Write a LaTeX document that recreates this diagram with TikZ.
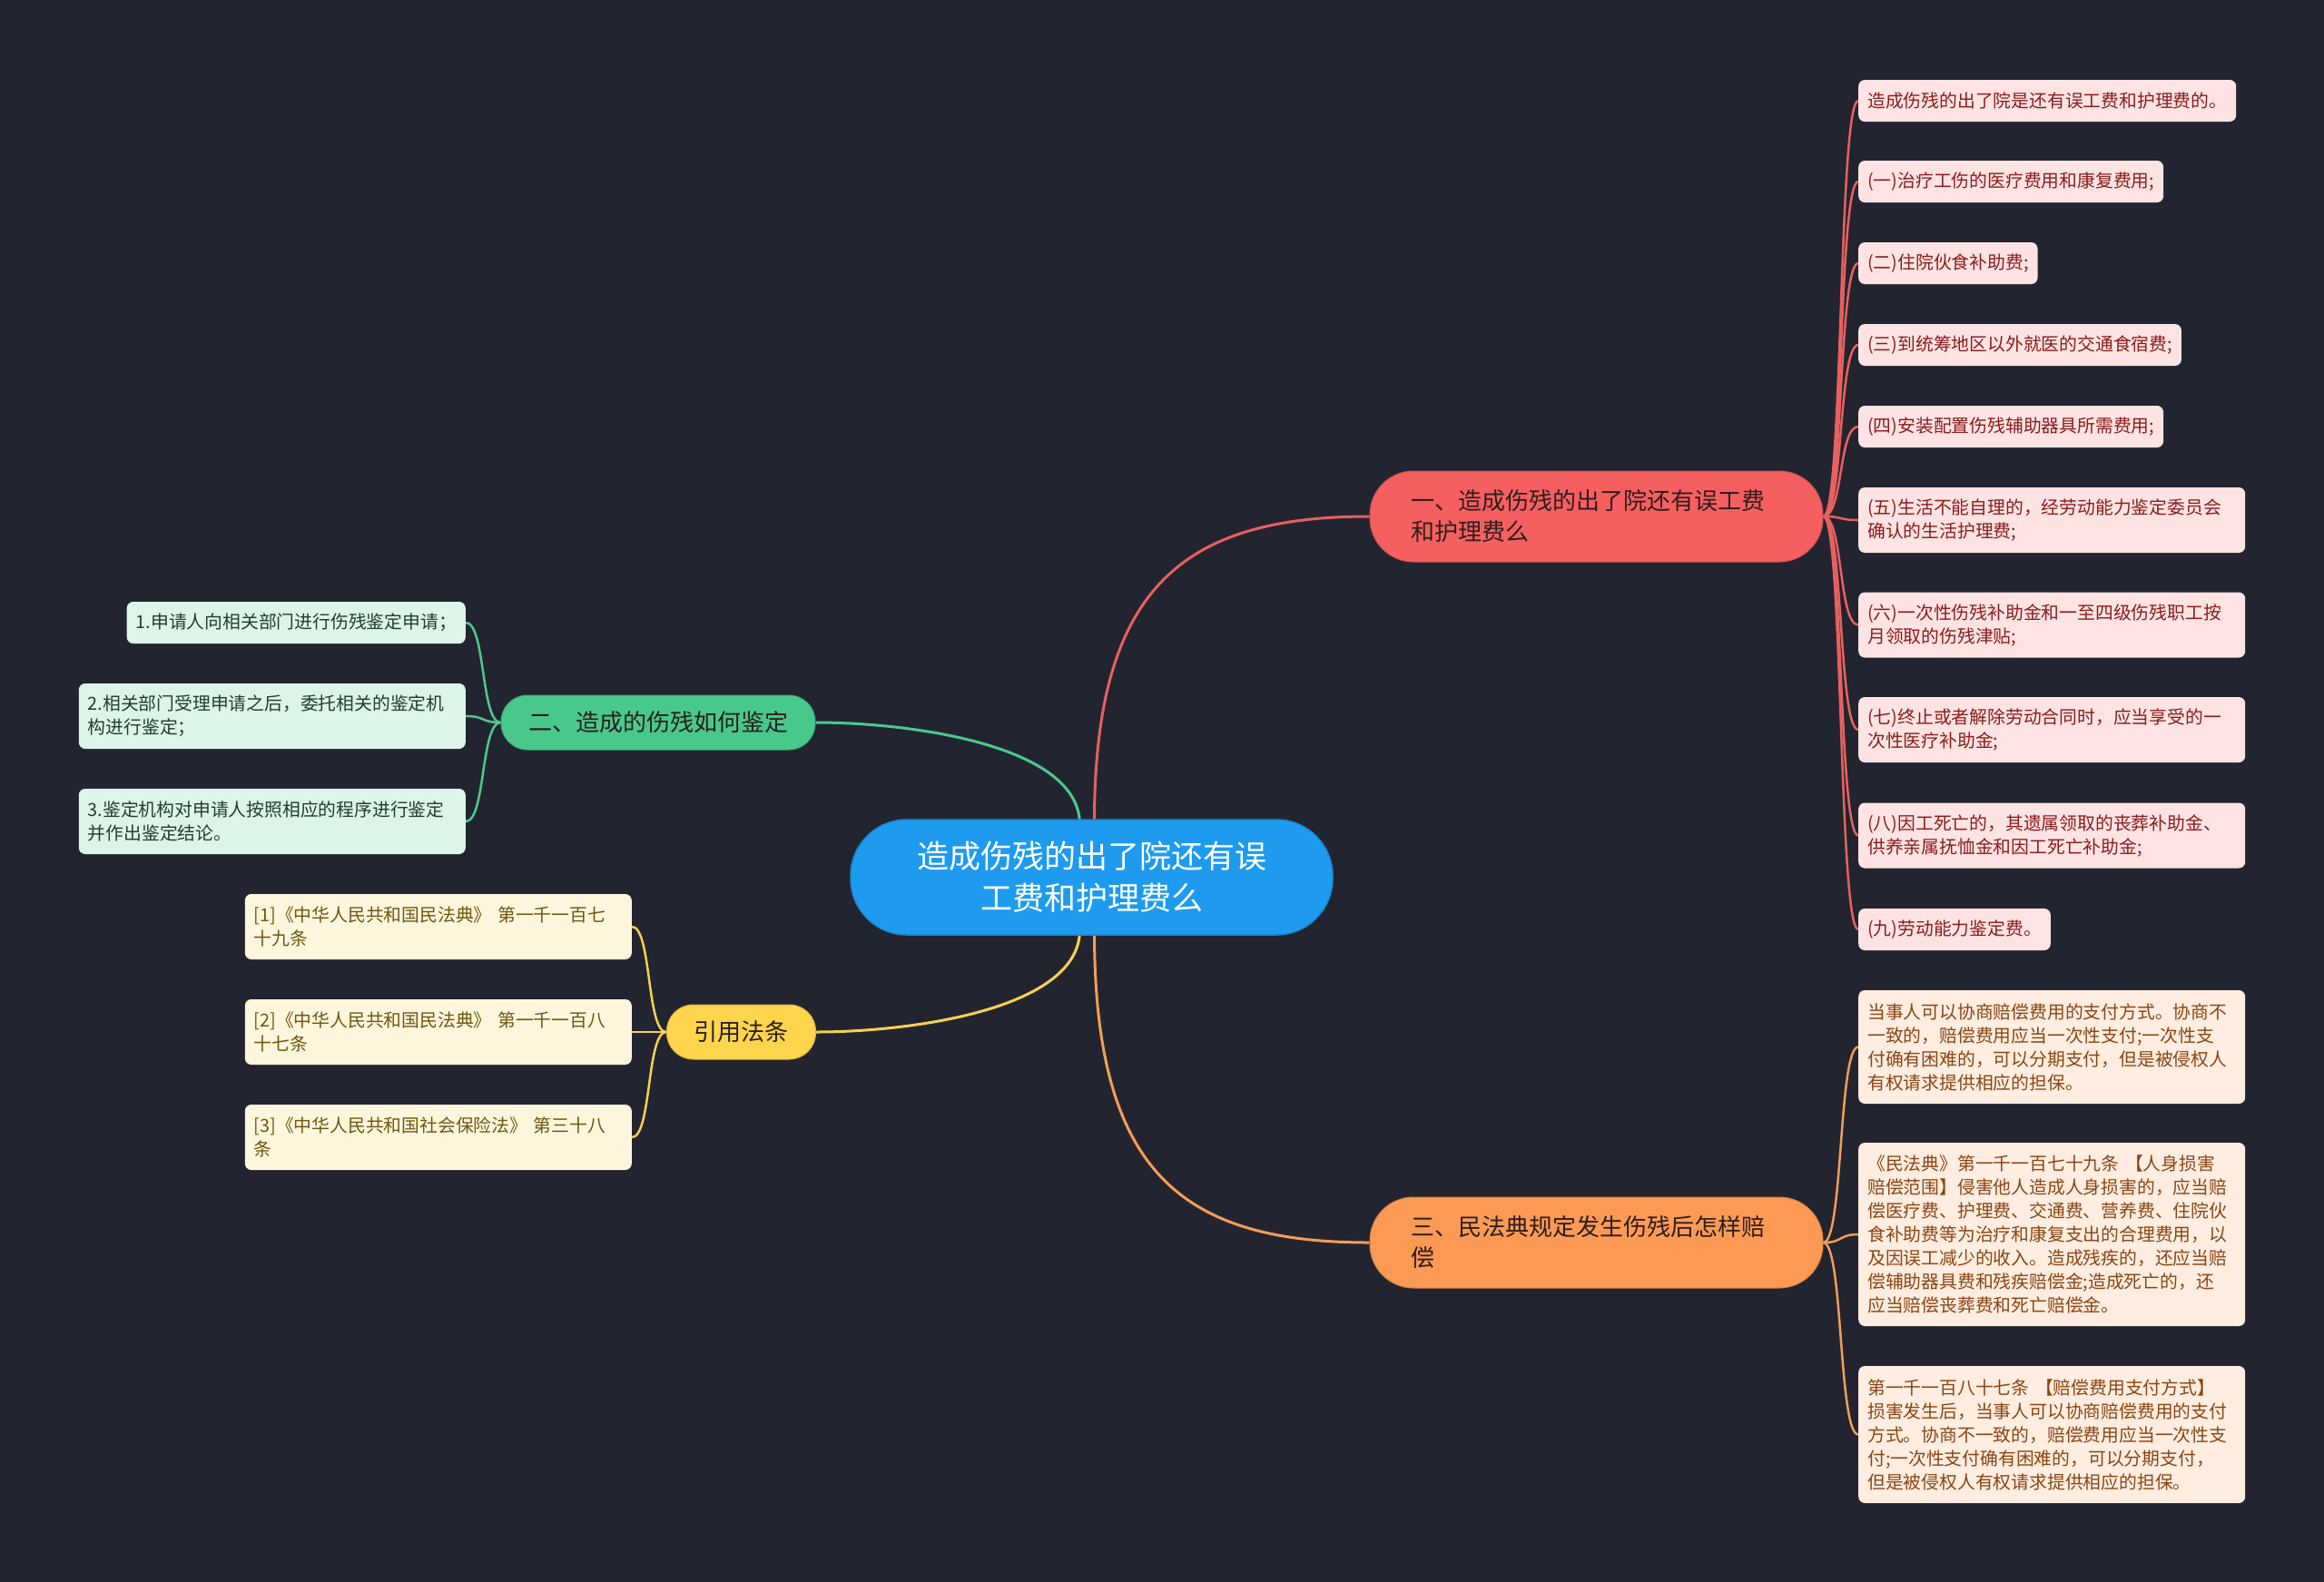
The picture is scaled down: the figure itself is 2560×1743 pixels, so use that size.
\documentclass[tikz,border=0pt]{standalone}
\usepackage{fontspec}
\setmainfont{Noto Sans CJK SC}
\usetikzlibrary{calc}
\pgfdeclarelayer{bg}
\pgfdeclarelayer{edges}
\pgfsetlayers{bg,edges,main}
\definecolor{bgc}{HTML}{22252F}
\definecolor{cfill}{HTML}{1E9BEE}
\definecolor{cdraw}{HTML}{1A86CF}
\definecolor{rfill}{HTML}{F55F5F}
\definecolor{rline}{HTML}{E8605F}
\definecolor{rleaf}{HTML}{FDE4E3}
\definecolor{rtext}{HTML}{8A1C1C}
\definecolor{gfill}{HTML}{48C98B}
\definecolor{gline}{HTML}{4CC98E}
\definecolor{gleaf}{HTML}{DDF4E8}
\definecolor{gtext}{HTML}{1F3F2E}
\definecolor{yfill}{HTML}{FDD54C}
\definecolor{yline}{HTML}{F5D052}
\definecolor{yleaf}{HTML}{FEF6DC}
\definecolor{ytext}{HTML}{6E5710}
\definecolor{ofill}{HTML}{FC9A55}
\definecolor{oline}{HTML}{F49C5A}
\definecolor{oleaf}{HTML}{FEEDE0}
\definecolor{otext}{HTML}{8A4514}
\definecolor{btext}{HTML}{2E1E1E}
\tikzset{
  centernode/.style={rectangle, rounded corners=62pt, fill=cfill, draw=cdraw, line width=1.5pt,
    text=white, align=center, text width=441pt, inner xsep=45pt, inner ysep=0pt,
    minimum height=127pt, font=\fontsize{35}{46}\selectfont},
  branchbox/.style={rectangle, inner ysep=0pt, minimum height=100pt, rounded corners=48pt,
    text=btext, font=\fontsize{26}{34}\selectfont, line width=1pt},
  widebranch/.style={branchbox, align=left, text width=409pt, inner xsep=45pt},
  smallbranch/.style={branchbox, align=center, inner xsep=30pt, minimum height=60pt, rounded corners=29pt},
  leafbox/.style={rectangle, rounded corners=7pt, inner xsep=10pt, inner ysep=0pt,
    align=left, font=\fontsize{19.8}{26}\selectfont},
  leafR/.style={leafbox, fill=rleaf, text=rtext, anchor=west},
  leafO/.style={leafbox, fill=oleaf, text=otext, anchor=west},
  leafG/.style={leafbox, fill=gleaf, text=gtext, anchor=east},
  leafY/.style={leafbox, fill=yleaf, text=ytext, anchor=east},
  multi/.style={text width=406pt},
  one/.style={minimum height=46pt},
  two/.style={minimum height=72pt},
  mainedge/.style={line width=3pt},
  leafedge/.style={line width=2.5pt},
}
\begin{document}
\begin{tikzpicture}[x=1pt,y=-1pt]
\begin{pgfonlayer}{bg}
\fill[bgc] (0,0) rectangle (2560,1743);
\end{pgfonlayer}
\useasboundingbox (0,0) rectangle (2560,1743);

% center
\node[centernode] (c) at (1202.5,966.5) {造成伤残的出了院还有误\\工费和护理费么};

% branches
\node[widebranch, fill=rfill, draw=rfill!85!black] (b1) at (1758.5,569) {一、造成伤残的出了院还有误工费\\和护理费么};
\node[widebranch, fill=ofill, draw=ofill!85!black] (b4) at (1758.5,1369) {三、民法典规定发生伤残后怎样赔\\偿};
\node[smallbranch, fill=gfill, draw=gfill!85!black, minimum width=346pt] (b2) at (725,796) {二、造成的伤残如何鉴定};
\node[smallbranch, fill=yfill, draw=yfill!85!black, minimum width=163pt] (b3) at (816.5,1137) {引用法条};

% red leaves
\node[leafR, one] (r1) at (2047,111) {造成伤残的出了院是还有误工费和护理费的。};
\node[leafR, one] (r2) at (2047,200) {(一)治疗工伤的医疗费用和康复费用;};
\node[leafR, one] (r3) at (2047,290) {(二)住院伙食补助费;};
\node[leafR, one] (r4) at (2047,380) {(三)到统筹地区以外就医的交通食宿费;};
\node[leafR, one] (r5) at (2047,470) {(四)安装配置伤残辅助器具所需费用;};
\node[leafR, two, multi] (r6) at (2047,573) {(五)生活不能自理的，经劳动能力鉴定委员会\\确认的生活护理费;};
\node[leafR, two, multi] (r7) at (2047,688.5) {(六)一次性伤残补助金和一至四级伤残职工按\\月领取的伤残津贴;};
\node[leafR, two, multi] (r8) at (2047,804) {(七)终止或者解除劳动合同时，应当享受的一\\次性医疗补助金;};
\node[leafR, two, multi] (r9) at (2047,920.5) {(八)因工死亡的，其遗属领取的丧葬补助金、\\供养亲属抚恤金和因工死亡补助金;};
\node[leafR, one] (r10) at (2047,1024) {(九)劳动能力鉴定费。};

% orange leaves
\node[leafO, multi, minimum height=125pt] (o1) at (2047,1153.5) {当事人可以协商赔偿费用的支付方式。协商不\\一致的，赔偿费用应当一次性支付;一次性支\\付确有困难的，可以分期支付，但是被侵权人\\有权请求提供相应的担保。};
\node[leafO, multi, minimum height=202pt] (o2) at (2047,1360) {《民法典》第一千一百七十九条 【人身损害\\赔偿范围】侵害他人造成人身损害的，应当赔\\偿医疗费、护理费、交通费、营养费、住院伙\\食补助费等为治疗和康复支出的合理费用，以\\及因误工减少的收入。造成残疾的，还应当赔\\偿辅助器具费和残疾赔偿金;造成死亡的，还\\应当赔偿丧葬费和死亡赔偿金。};
\node[leafO, multi, minimum height=151pt] (o3) at (2047,1580.5) {第一千一百八十七条 【赔偿费用支付方式】\\损害发生后，当事人可以协商赔偿费用的支付\\方式。协商不一致的，赔偿费用应当一次性支\\付;一次性支付确有困难的，可以分期支付，\\但是被侵权人有权请求提供相应的担保。};

% green leaves
\node[leafG, one] (g1) at (513,686) {1.申请人向相关部门进行伤残鉴定申请；};
\node[leafG, two, multi] (g2) at (513,789) {2.相关部门受理申请之后，委托相关的鉴定机\\构进行鉴定；};
\node[leafG, two, multi] (g3) at (513,905) {3.鉴定机构对申请人按照相应的程序进行鉴定\\并作出鉴定结论。};

% yellow leaves
\node[leafY, two, multi] (y1) at (696,1021) {[1]《中华人民共和国民法典》 第一千一百七\\十九条};
\node[leafY, two, multi] (y2) at (696,1137) {[2]《中华人民共和国民法典》 第一千一百八\\十七条};
\node[leafY, two, multi] (y3) at (696,1253) {[3]《中华人民共和国社会保险法》 第三十八\\条};

\begin{pgfonlayer}{edges}
% main edges
\draw[mainedge, rline] ($(c.north)+(3,6)$) .. controls (1205,650) and (1300,569) .. (b1.west);
\draw[mainedge, oline] ($(c.south)+(3,-6)$) .. controls (1205,1290) and (1300,1369) .. (b4.west);
\draw[mainedge, gline] ($(c.north)+(-13,6)$) .. controls (1189,820) and (1000,796) .. (b2.east);
\draw[mainedge, yline] ($(c.south)+(-13,-6)$) .. controls (1189,1113) and (1000,1137) .. (b3.east);
% leaf edges
\foreach \n in {r1,r2,r3,r4,r5,r6,r7,r8,r9,r10}
  \draw[leafedge, rline] (b1.east) .. controls ($(b1.east)+(22,0)$) and ($(\n.west)+(-22,0)$) .. (\n.west);
\foreach \n in {o1,o2,o3}
  \draw[leafedge, oline] (b4.east) .. controls ($(b4.east)+(22,0)$) and ($(\n.west)+(-22,0)$) .. (\n.west);
\foreach \n in {g1,g2,g3}
  \draw[leafedge, gline] (b2.west) .. controls ($(b2.west)+(-22,0)$) and ($(\n.east)+(22,0)$) .. (\n.east);
\foreach \n in {y1,y2,y3}
  \draw[leafedge, yline] (b3.west) .. controls ($(b3.west)+(-22,0)$) and ($(\n.east)+(22,0)$) .. (\n.east);
\end{pgfonlayer}
\end{tikzpicture}
\end{document}
